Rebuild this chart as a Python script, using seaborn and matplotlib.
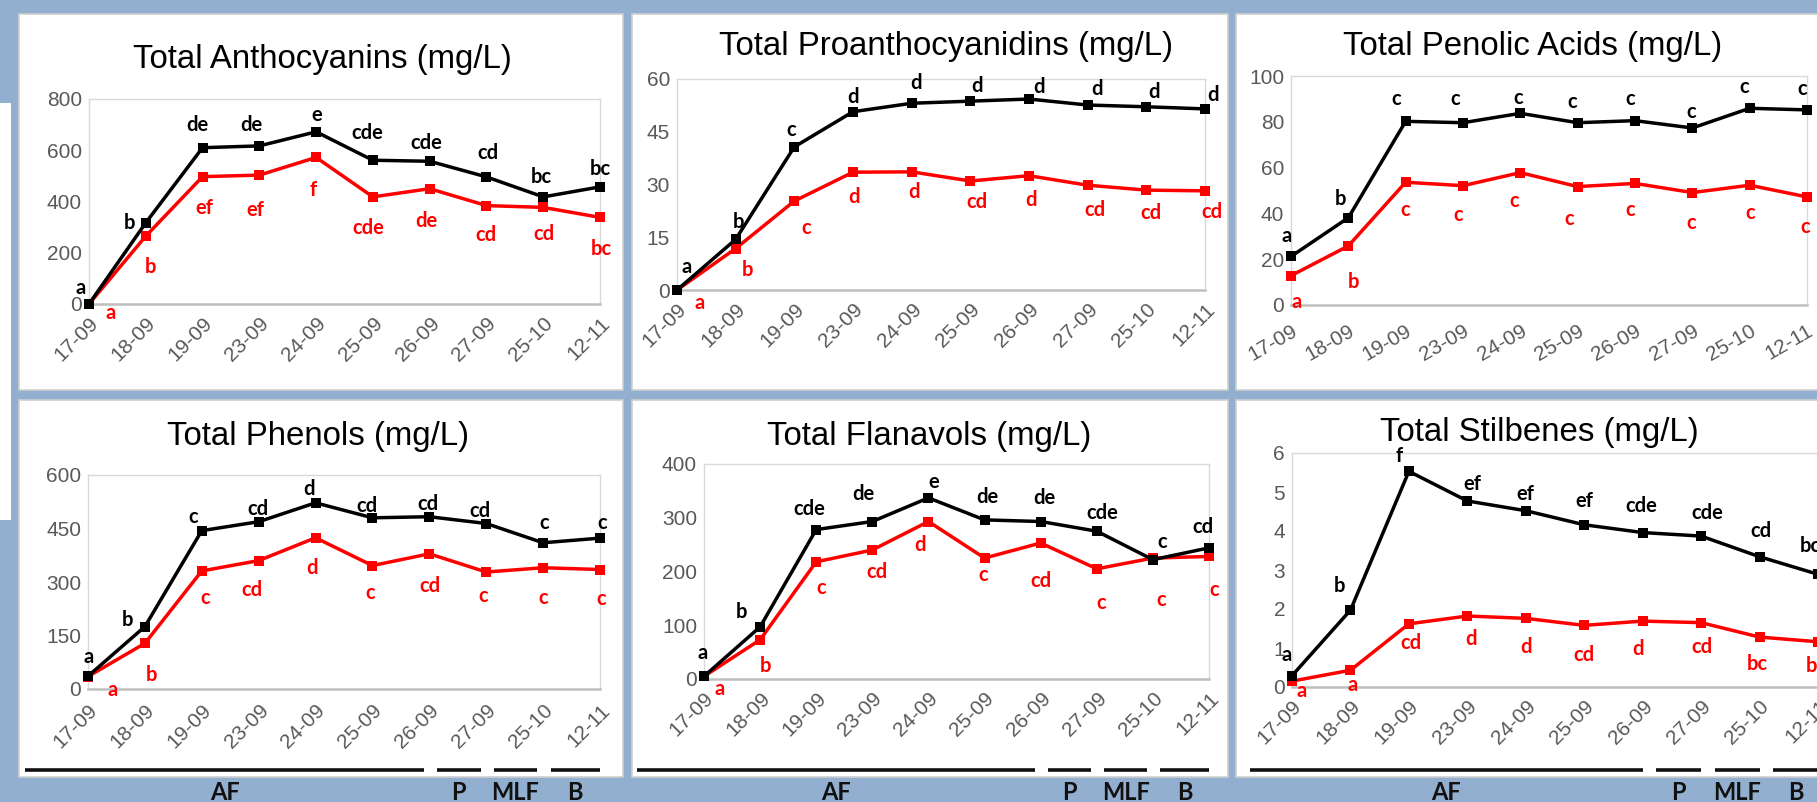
import numpy as np
import pandas as pd
import matplotlib
matplotlib.use("Agg")
import matplotlib.pyplot as plt
import matplotlib.transforms as mtransforms
from matplotlib.patches import Rectangle
import seaborn as sns

# ---------------- data ----------------
dates = ["17-09", "18-09", "19-09", "23-09", "24-09", "25-09", "26-09", "27-09", "25-10", "12-11"]

antho_black = [0, 317, 610, 617, 672, 561, 557, 496, 418, 457]
antho_red = [0, 265, 497, 503, 572, 418, 450, 384, 377, 338]
antho_black_lbl = ["a", "b", "de", "de", "e", "cde", "cde", "cd", "bc", "bc"]
antho_red_lbl = ["a", "b", "ef", "ef", "f", "cde", "de", "cd", "cd", "bc"]

proan_black = [0, 14.4, 40.7, 50.7, 53.1, 53.7, 54.3, 52.6, 52.1, 51.5]
proan_red = [0, 11.8, 25.3, 33.5, 33.6, 31.0, 32.5, 29.8, 28.4, 28.2]
proan_black_lbl = ["a", "b", "c", "d", "d", "d", "d", "d", "d", "d"]
proan_red_lbl = ["a", "b", "c", "d", "d", "cd", "d", "cd", "cd", "cd"]

acids_black = [21.2, 38.1, 80.2, 79.6, 83.7, 79.6, 80.5, 77.3, 85.9, 85.2]
acids_red = [12.8, 25.8, 53.6, 52.1, 57.8, 51.7, 53.1, 49.1, 52.3, 47.2]
acids_black_lbl = ["a", "b", "c", "c", "c", "c", "c", "c", "c", "c"]
acids_red_lbl = ["a", "b", "c", "c", "c", "c", "c", "c", "c", "c"]

phen_black = [36, 175, 444, 469, 522, 480, 483, 464, 410, 423]
phen_red = [35, 128, 331, 360, 424, 346, 379, 328, 340, 335]
phen_black_lbl = ["a", "b", "c", "cd", "d", "cd", "cd", "cd", "c", "c"]
phen_red_lbl = ["a", "b", "c", "cd", "d", "c", "cd", "c", "c", "c"]

flav_black = [5, 97, 278, 293, 337, 296, 293, 275, 222, 244]
flav_red = [5, 73, 218, 240, 293, 225, 253, 205, 225, 228]
flav_black_lbl = ["a", "b", "cde", "de", "e", "de", "de", "cde", "c", "cd"]
flav_red_lbl = ["a", "b", "c", "cd", "d", "c", "cd", "c", "c", "c"]

stil_black = [0.29, 1.97, 5.53, 4.77, 4.52, 4.16, 3.96, 3.87, 3.34, 2.89]
stil_red = [0.15, 0.43, 1.62, 1.82, 1.76, 1.58, 1.69, 1.65, 1.28, 1.16]
stil_black_lbl = ["a", "b", "f", "ef", "ef", "ef", "cde", "cde", "cd", "bc"]
stil_red_lbl = ["a", "a", "cd", "d", "d", "cd", "d", "cd", "bc", "bc"]

titles = ["Total Anthocyanins (mg/L)", "Total Proanthocyanidins (mg/L)", "Total Penolic Acids (mg/L)",
          "Total Phenols (mg/L)", "Total Flanavols (mg/L)", "Total Stilbenes (mg/L)"]
yticks = [[0, 200, 400, 600, 800], [0, 15, 30, 45, 60], [0, 20, 40, 60, 80, 100],
          [0, 150, 300, 450, 600], [0, 100, 200, 300, 400], [0, 1, 2, 3, 4, 5, 6]]
phases = ["AF", "P", "MLF", "B"]
phase_end = ["26-09", "27-09", "25-10", "12-11"]

series_black = "Series 1"
series_red = "Series 2"

# ---------------- layout (pixels) ----------------
W, H = 1817, 802
BG = "#93AFCF"
axes_px = [(89, 99, 600, 304), (677, 79, 1205, 290), (1291, 76, 1807, 305),
           (88, 475, 600, 689), (704, 464, 1209, 679), (1292, 453, 1818, 687)]
title_px = [(322, 68), (946, 55), (1533, 55), (318, 445), (929, 445), (1539, 441)]
rotations = [45, 45, 30, 45, 45, 45]
xpads_px = [10, 10, 16, 12, 10, 10]
cols = [(19, 623), (632, 1228), (1236, 1840)]
rows = [(14, 390), (400, 777)]
af_start = {3: -1.1, 4: -1.2, 5: -0.72}
bar_shift = {3: 0.0, 4: 0.0, 5: 0.1}

# label offsets in pixels (dx right, dy down) from each point
off_black = [
    [(-8, -16), (-16, 0), (-5, -23), (-8, -21), (1, -17), (-6, -27), (-3, -18), (1, -24), (-2, -20), (0, -18)],
    [(10, -23), (3, -17), (-3, -17), (0, -15), (4, -20), (7, -15), (10, -12), (9, -16), (8, -15), (8, -14)],
    [(-4, -20), (-8, -19), (-9, -22), (-8, -24), (-2, -15), (-5, -21), (-5, -22), (-1, -16), (-5, -21), (-5, -21)],
    [(1, -19), (-17, -7), (-9, -14), (-1, -13), (-7, -14), (-6, -12), (-1, -13), (-6, -13), (1, -20), (2, -15)],
    [(-1, -23), (-19, -15), (-7, -21), (-9, -28), (5, -16), (3, -23), (4, -24), (6, -18), (9, -18), (-6, -21)],
    [(-5, -21), (-11, -24), (-10, -15), (5, -17), (0, -17), (0, -24), (-1, -27), (6, -23), (1, -26), (-8, -28)],
]
off_red = [
    [(22, 9), (5, 31), (2, 31), (-4, 35), (-3, 33), (-5, 31), (-3, 32), (-1, 29), (1, 27), (1, 32)],
    [(23, 13), (12, 21), (12, 27), (1, 25), (2, 20), (7, 21), (2, 24), (7, 25), (5, 23), (7, 21)],
    [(6, 26), (5, 36), (0, 28), (-5, 29), (-6, 28), (-8, 32), (-5, 27), (-1, 30), (1, 28), (-2, 30)],
    [(25, 13), (7, 32), (3, 27), (-7, 29), (-4, 30), (-2, 27), (1, 32), (-3, 24), (0, 30), (1, 29)],
    [(16, 13), (5, 26), (5, 26), (5, 22), (-8, 23), (-1, 17), (0, 38), (4, 34), (8, 42), (5, 34)],
    [(10, 10), (2, 15), (2, 19), (4, 23), (0, 29), (0, 30), (-5, 28), (1, 24), (-2, 27), (-2, 24)],
]

panels = [
    (antho_black, antho_red, antho_black_lbl, antho_red_lbl),
    (proan_black, proan_red, proan_black_lbl, proan_red_lbl),
    (acids_black, acids_red, acids_black_lbl, acids_red_lbl),
    (phen_black, phen_red, phen_black_lbl, phen_red_lbl),
    (flav_black, flav_red, flav_black_lbl, flav_red_lbl),
    (stil_black, stil_red, stil_black_lbl, stil_red_lbl),
]

sns.set_style("white")
plt.rcParams["font.family"] = ["Liberation Sans", "DejaVu Sans"]
LBL_FONT = ["Lato", "DejaVu Sans"]

fig = plt.figure(figsize=(W / 100, H / 100), dpi=100, facecolor=BG)


def fx(x):
    return x / W


def fy(y):
    return 1 - y / H


# white slide pieces (behind the axes)
fig.patches.append(Rectangle((0, fy(520)), fx(11), (520 - 103) / H, transform=fig.transFigure,
                             facecolor="white", edgecolor="none", zorder=-10))
for (ry0, ry1) in rows:
    for (cx0, cx1) in cols:
        fig.patches.append(Rectangle((fx(cx0), fy(ry1)), (cx1 - cx0) / W, (ry1 - ry0) / H,
                                     transform=fig.transFigure, facecolor="white",
                                     edgecolor="#CFCFCF", linewidth=1.2, zorder=-10))

n = len(dates)
for i, (vb, vr, lb, lr) in enumerate(panels):
    x0, y0, x1, y1 = axes_px[i]
    ax = fig.add_axes([fx(x0), fy(y1), (x1 - x0) / W, (y1 - y0) / H])
    ax.set_facecolor("none")
    df = pd.DataFrame({
        "pos": list(range(n)) * 2,
        "value": list(vr) + list(vb),
        "series": [series_red] * n + [series_black] * n,
    })
    sns.lineplot(data=df, x="pos", y="value", hue="series", hue_order=[series_red, series_black],
                 palette={series_red: "#FF0000", series_black: "#000000"},
                 marker="s", markersize=6.5, markeredgewidth=0, linewidth=2.5,
                 sort=False, estimator=None, legend=False, ax=ax)
    for ln in ax.lines:
        ln.set_clip_on(False)
        ln.set_zorder(3)
    ax.set_xlim(0, n - 1)
    ax.set_ylim(yticks[i][0], yticks[i][-1])
    ax.set_yticks(yticks[i])
    ax.set_yticklabels([str(t) for t in yticks[i]])
    ax.set_xticks(range(n))
    ax.set_xticklabels(dates, rotation=rotations[i], ha="right", va="top", rotation_mode="anchor")
    ax.set_xlabel("")
    ax.set_ylabel("")
    ax.tick_params(axis="both", length=0, labelsize=15, labelcolor="#595959")
    ax.tick_params(axis="y", pad=5)
    ax.tick_params(axis="x", pad=xpads_px[i] * 0.72)
    for s in ["left", "top", "right"]:
        ax.spines[s].set_color("#D9D9D9")
        ax.spines[s].set_linewidth(1.0)
    ax.spines["bottom"].set_color("#BFBFBF")
    ax.spines["bottom"].set_linewidth(1.8)

    for j in range(n):
        dx, dy = off_black[i][j]
        ax.annotate(lb[j], (j, vb[j]), xytext=(dx * 0.72, -dy * 0.72), textcoords="offset points",
                    ha="center", va="center", color="#000000", fontsize=14.5, fontweight="bold",
                    family=LBL_FONT, annotation_clip=False, zorder=4)
        dx, dy = off_red[i][j]
        ax.annotate(lr[j], (j, vr[j]), xytext=(dx * 0.72, -dy * 0.72), textcoords="offset points",
                    ha="center", va="center", color="#FF0000", fontsize=14.5, fontweight="bold",
                    family=LBL_FONT, annotation_clip=False, zorder=4)

    tx, ty = title_px[i]
    fig.text(fx(tx), fy(ty), titles[i], ha="center", va="baseline", fontsize=23.8, color="#000000")

    # fermentation phase bars under the bottom row
    if i >= 3:
        trans = mtransforms.blended_transform_factory(ax.transData, fig.transFigure)
        prev = None
        sh = bar_shift[i]
        for k, (ph, endd) in enumerate(zip(phases, phase_end)):
            e = dates.index(endd)
            start = af_start[i] if k == 0 else prev + 0.13 + sh
            stop = e - 0.1 + sh if k < len(phases) - 1 else e
            ax.plot([start, stop], [fy(769.5), fy(769.5)], color="#111111", linewidth=2.6,
                    solid_capstyle="butt", transform=trans, clip_on=False)
            ax.text((start + stop) / 2, fy(800), ph, transform=trans, ha="center", va="baseline",
                    fontsize=17, fontweight="bold", family=LBL_FONT, color="#111111")
            prev = e

fig.savefig("out.png", dpi=100, facecolor=BG)
